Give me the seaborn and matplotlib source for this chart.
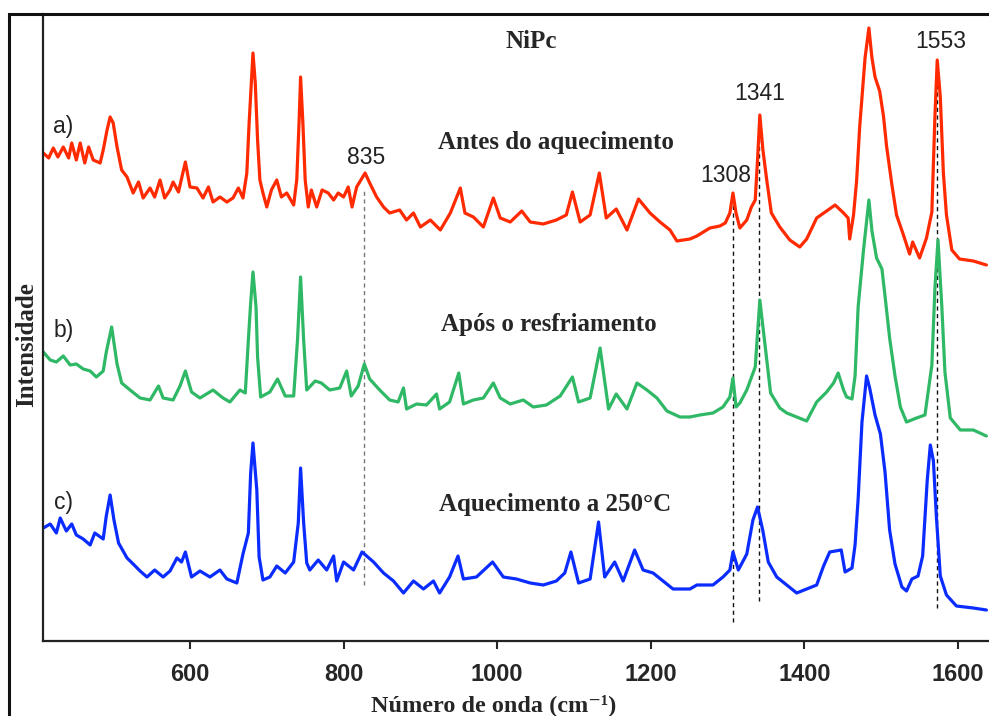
import seaborn as sns
import matplotlib.pyplot as plt
from matplotlib.patches import Rectangle

# Espectros Raman NiPc (intensidade em unidades arbitrarias, ja deslocadas)
red_x = [409, 416, 422, 428, 435, 442, 446, 452, 457, 463,
         468, 474, 483, 487, 492, 496, 500, 505, 511, 518,
         526, 533, 539, 548, 554, 561, 567, 574, 578, 585,
         594, 600, 609, 617, 624, 630, 639, 648, 656, 663,
         669, 674, 677, 680, 682, 685, 688, 691, 695, 700,
         706, 713, 719, 726, 735, 739, 742, 744, 747, 750,
         754, 758, 765, 772, 780, 787, 793, 800, 806, 811,
         817, 828, 834, 843, 852, 860, 873, 882, 891, 900,
         913, 926, 939, 952, 958, 969, 982, 995, 1004, 1017,
         1032, 1043, 1060, 1077, 1090, 1098, 1108, 1121, 1133, 1142,
         1155, 1169, 1184, 1199, 1212, 1225, 1234, 1251, 1260, 1277,
         1290, 1297, 1303, 1307, 1311, 1316, 1325, 1331, 1336, 1339,
         1342, 1346, 1351, 1357, 1368, 1381, 1394, 1403, 1416, 1429,
         1440, 1451, 1457, 1459, 1464, 1468, 1472, 1479, 1484, 1488,
         1492, 1498, 1503, 1507, 1514, 1520, 1529, 1537, 1541, 1550,
         1559, 1566, 1570, 1573, 1577, 1581, 1585, 1592, 1602, 1620,
         1637]
red_y = [488, 483, 493, 484, 494, 483, 498, 481, 498, 478,
         494, 481, 478, 491, 511, 524, 518, 494, 471, 464,
         448, 459, 443, 453, 444, 461, 443, 451, 459, 449,
         479, 454, 453, 443, 454, 439, 444, 439, 443, 453,
         443, 468, 518, 561, 588, 558, 501, 461, 448, 434,
         451, 461, 444, 448, 436, 461, 518, 564, 518, 461,
         434, 451, 434, 451, 448, 441, 448, 444, 454, 434,
         454, 468, 458, 444, 434, 428, 431, 421, 428, 414,
         421, 411, 428, 453, 428, 424, 414, 443, 423, 419,
         430, 419, 417, 421, 426, 449, 419, 426, 468, 423,
         432, 411, 442, 428, 419, 411, 400, 402, 405, 413,
         415, 418, 428, 448, 428, 413, 421, 434, 441, 481,
         526, 491, 461, 428, 414, 401, 394, 402, 423, 430,
         436, 428, 423, 402, 426, 460, 514, 583, 613, 583,
         564, 550, 525, 495, 456, 426, 406, 387, 399, 383,
         403, 429, 525, 581, 544, 468, 426, 391, 382, 380,
         376]

green_x = [409, 418, 426, 435, 444, 452, 461, 470, 478, 487,
           491, 498, 505, 511, 522, 535, 548, 559, 565, 578,
           587, 594, 602, 613, 630, 643, 652, 665, 672, 676,
           679, 682, 686, 688, 692, 704, 714, 724, 735, 740,
           744, 748, 752, 763, 771, 782, 795, 804, 810, 819,
           827, 834, 847, 860, 871, 878, 882, 895, 908, 921,
           925, 938, 950, 956, 969, 982, 995, 1004, 1017, 1034,
           1047, 1064, 1082, 1098, 1106, 1121, 1134, 1145, 1155, 1169,
           1182, 1195, 1208, 1221, 1238, 1251, 1264, 1281, 1294, 1303,
           1307, 1311, 1316, 1325, 1336, 1339, 1342, 1347, 1351, 1356,
           1368, 1377, 1390, 1403, 1416, 1429, 1438, 1444, 1451, 1455,
           1462, 1466, 1470, 1477, 1484, 1488, 1494, 1501, 1505, 1511,
           1518, 1525, 1533, 1546, 1557, 1566, 1570, 1574, 1579, 1583,
           1590, 1603, 1620, 1637]
green_y = [289, 281, 279, 285, 276, 277, 272, 270, 264, 270,
           289, 314, 277, 258, 251, 243, 241, 255, 243, 241,
           255, 270, 249, 243, 251, 243, 239, 251, 248, 301,
           338, 369, 334, 284, 244, 249, 262, 245, 245, 301,
           364, 301, 251, 260, 258, 251, 253, 270, 245, 255,
           277, 262, 251, 241, 239, 253, 232, 237, 236, 247,
           232, 239, 268, 237, 241, 243, 258, 243, 237, 241,
           234, 236, 245, 264, 239, 243, 293, 232, 247, 232,
           258, 251, 243, 230, 224, 224, 226, 228, 234, 244,
           263, 234, 238, 251, 274, 308, 341, 308, 281, 248,
           233, 228, 224, 220, 239, 249, 258, 268, 251, 244,
           242, 265, 334, 391, 441, 410, 383, 372, 345, 303,
           265, 234, 219, 223, 226, 276, 353, 401, 334, 269,
           223, 211, 211, 205]

blue_x = [409, 418, 426, 431, 439, 446, 452, 461, 470, 476,
          487, 491, 496, 501, 507, 518, 526, 535, 544, 554,
          565, 574, 583, 589, 594, 602, 613, 626, 639, 648,
          661, 669, 676, 679, 682, 687, 690, 695, 704, 713,
          724, 735, 741, 744, 748, 752, 756, 767, 778, 787,
          791, 800, 813, 824, 839, 852, 865, 878, 891, 904,
          917, 925, 938, 949, 956, 973, 994, 1008, 1025, 1043,
          1060, 1077, 1088, 1096, 1106, 1121, 1132, 1140, 1153, 1164,
          1179, 1190, 1203, 1216, 1229, 1251, 1260, 1281, 1294, 1303,
          1307, 1314, 1325, 1333, 1339, 1346, 1353, 1364, 1377, 1390,
          1403, 1416, 1425, 1433, 1448, 1453, 1462, 1466, 1470, 1475,
          1481, 1485, 1492, 1499, 1505, 1511, 1518, 1527, 1533, 1540,
          1548, 1554, 1560, 1564, 1568, 1572, 1577, 1585, 1598, 1620,
          1637]
blue_y = [113, 117, 108, 123, 110, 117, 106, 102, 96, 108,
          102, 125, 146, 121, 98, 83, 77, 70, 64, 71,
          64, 70, 83, 79, 89, 64, 70, 64, 71, 62,
          58, 87, 108, 168, 198, 151, 84, 61, 64, 75,
          68, 79, 118, 173, 118, 78, 71, 81, 71, 85,
          60, 79, 71, 89, 79, 68, 60, 48, 60, 52,
          60, 48, 64, 85, 62, 64, 79, 64, 62, 58,
          56, 60, 68, 89, 58, 62, 119, 64, 79, 60,
          91, 71, 68, 60, 52, 52, 56, 56, 64, 71,
          89, 71, 87, 121, 134, 110, 79, 64, 56, 48,
          52, 56, 75, 89, 91, 69, 73, 96, 142, 219,
          265, 253, 226, 207, 169, 111, 77, 54, 50, 62,
          65, 85, 161, 196, 180, 123, 65, 46, 35, 33,
          31]

# linhas tracejadas e numeros dos picos
peak_pos = [826, 1307, 1341, 1573]
peak_labels = ['835', '1308', '1341', '1553']
peak_top = [453, 438, 511, 556]
peak_bottom = [56, 19, 40, 33]

sns.set_style('ticks')
plt.rcParams['font.family'] = ['Liberation Sans', 'DejaVu Sans']
serif = ['Liberation Serif', 'DejaVu Serif']

fig = plt.figure(figsize=(9.89, 7.16), dpi=100)
ax = fig.add_axes([43 / 989, 75 / 716, 946 / 989, 627 / 716])

sns.lineplot(x=red_x, y=red_y, color='#ff2a00', lw=2.3, ax=ax)
sns.lineplot(x=green_x, y=green_y, color='#2fb865', lw=2.3, ax=ax)
sns.lineplot(x=blue_x, y=blue_y, color='#0a2cff', lw=2.3, ax=ax)

for i in range(len(peak_pos)):
    c = '#777777' if i == 0 else '#111111'
    ax.plot([peak_pos[i], peak_pos[i]], [peak_bottom[i], peak_top[i]],
            ls=(0, (3, 2.5)), color=c, lw=1.0, zorder=1)

ax.text(829, 483, peak_labels[0], ha='center', va='center', fontsize=16.5, color='#222222')
ax.text(1297, 465, peak_labels[1], ha='center', va='center', fontsize=16.5, color='#222222')
ax.text(1342, 548, peak_labels[2], ha='center', va='center', fontsize=16.5, color='#222222')
ax.text(1577, 599, peak_labels[3], ha='center', va='center', fontsize=16.5, color='#222222')

ax.text(435, 515, 'a)', ha='center', va='center', fontsize=16.5, color='#222222')
ax.text(435, 310, 'b)', ha='center', va='center', fontsize=16.5, color='#222222')
ax.text(435, 138, 'c)', ha='center', va='center', fontsize=16.5, color='#222222')

ax.text(1045, 599, 'NiPc', ha='center', va='center', fontsize=18, fontweight='bold', family=serif)
ax.text(1077, 499, 'Antes do aquecimento', ha='center', va='center', fontsize=18, fontweight='bold', family=serif)
ax.text(1067, 316, 'Após o resfriamento', ha='center', va='center', fontsize=18, fontweight='bold', family=serif)
ax.text(1075, 136, 'Aquecimento a 250°C', ha='center', va='center', fontsize=18, fontweight='bold', family=serif)

ax.set_xlim(408.6, 1640.4)
ax.set_ylim(0, 627)
ax.set_xticks([600, 800, 1000, 1200, 1400, 1600])
ax.set_yticks([])
ax.tick_params(axis='x', direction='out', length=6, width=1.5, pad=10, labelsize=17)
for lab in ax.get_xticklabels():
    lab.set_fontweight('bold')

for s in ['top', 'right']:
    ax.spines[s].set_visible(False)
for s in ['left', 'bottom']:
    ax.spines[s].set_linewidth(1.6)
    ax.spines[s].set_color('#222222')

ax.set_xlabel('Número de onda (cm⁻¹)', fontsize=17.5, fontweight='bold', family=serif, va='center')
ax.xaxis.set_label_coords(0.476, -0.102)
ax.set_ylabel('Intensidade', fontsize=18, fontweight='bold', family=serif, va='center')
ax.yaxis.set_label_coords(-16 / 946, 0.472)

# moldura externa
fig.patches.append(Rectangle((9 / 989, -0.1), 1.2, 0.9804 + 0.1, transform=fig.transFigure,
                             fill=False, lw=2.2, edgecolor='#111111'))

fig.savefig('out.png', dpi=100)
